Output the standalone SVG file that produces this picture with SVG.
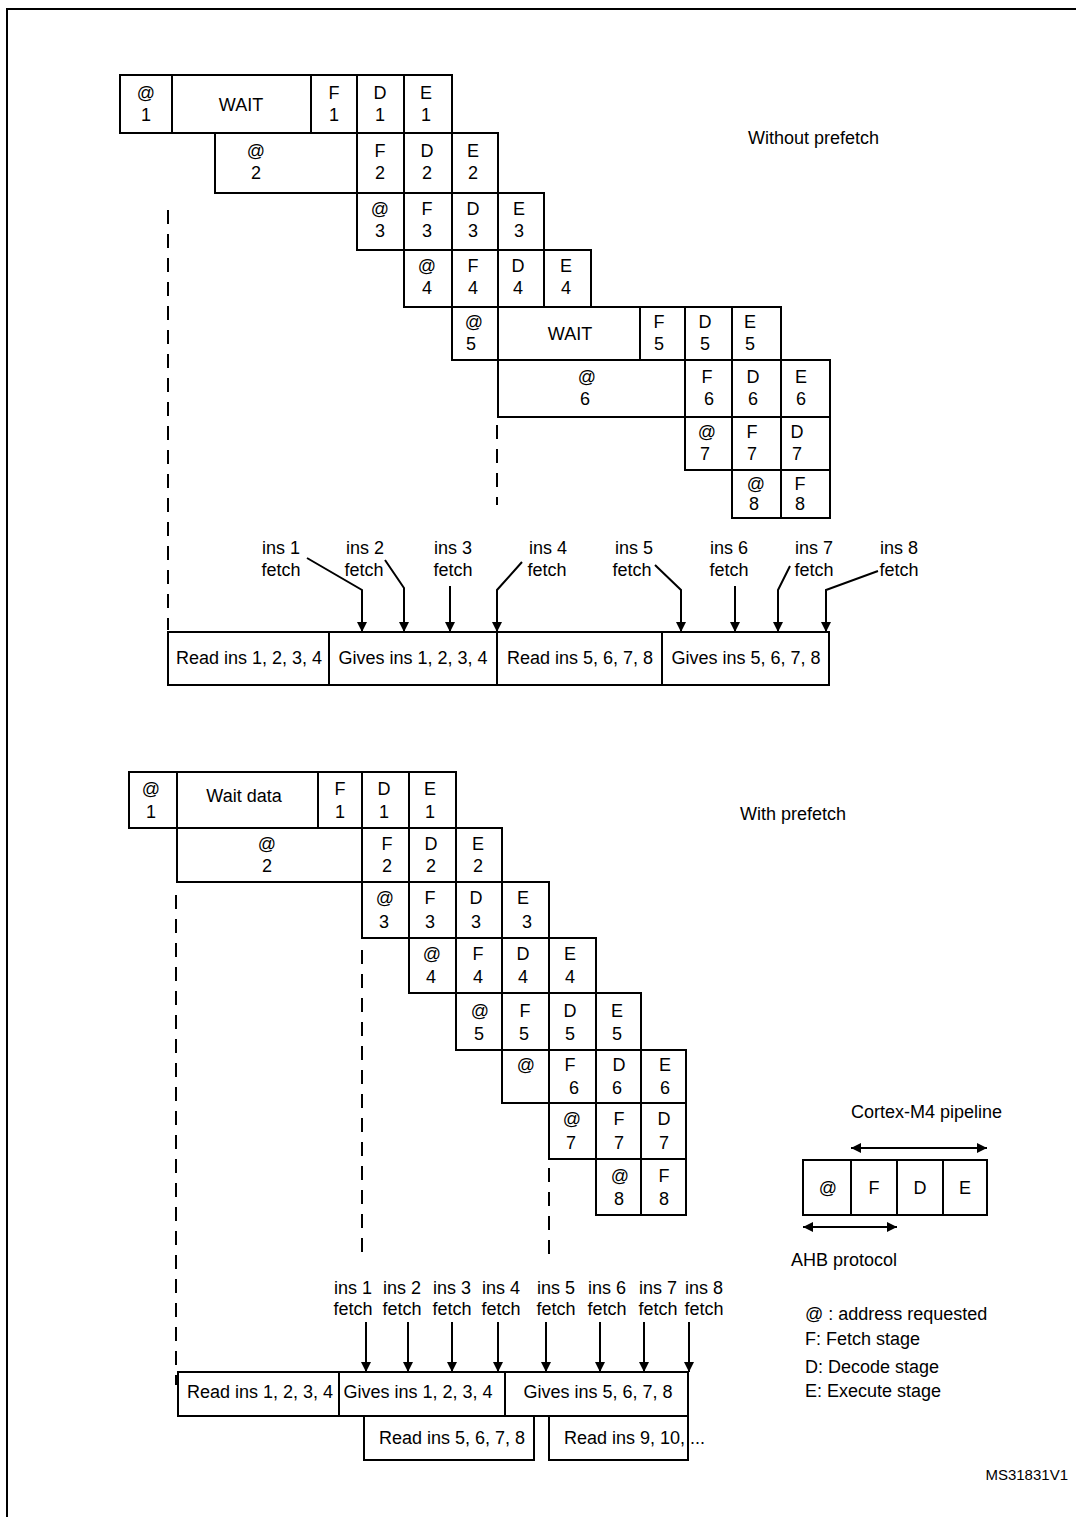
<svg xmlns="http://www.w3.org/2000/svg" width="1076" height="1517" viewBox="0 0 1076 1517">
<defs>
<style>
text{font-family:"Liberation Sans",Arial,sans-serif;font-size:18px;fill:#000}
.c{text-anchor:middle}
rect{fill:#fff;stroke:#000;stroke-width:2}
.d{stroke:#000;stroke-width:2;stroke-dasharray:14,10;fill:none}
.l{stroke:#000;stroke-width:2;fill:none}
</style>
<marker id="ah" viewBox="0 0 10 10" refX="10" refY="5" markerWidth="5" markerHeight="5" orient="auto" markerUnits="strokeWidth"><path d="M0,0 L10,5 L0,10 z" fill="#000"/></marker>
<marker id="ah2" viewBox="0 0 10 10" refX="10" refY="5" markerWidth="5" markerHeight="5" orient="auto-start-reverse" markerUnits="strokeWidth"><path d="M0,0 L10,5 L0,10 z" fill="#000"/></marker>
</defs>
<rect x="7" y="9" width="1080" height="1520" style="fill:#fff"/>

<!-- TOP: without prefetch -->
<g id="top-r1">
<rect x="120" y="75" width="52" height="58"/><text class="c" x="146" y="99">@</text><text class="c" x="146" y="121">1</text>
<rect x="172" y="75" width="139" height="58"/><text class="c" x="241" y="111">WAIT</text>
<rect x="311" y="75" width="46" height="58"/><text class="c" x="334" y="99">F</text><text class="c" x="334" y="121">1</text>
<rect x="357" y="75" width="47" height="58"/><text class="c" x="380" y="99">D</text><text class="c" x="380" y="121">1</text>
<rect x="404" y="75" width="48" height="58"/><text class="c" x="426" y="99">E</text><text class="c" x="426" y="121">1</text>
</g>
<g id="top-r2">
<rect x="215" y="133" width="142" height="60"/><text class="c" x="256" y="157">@</text><text class="c" x="256" y="179">2</text>
<rect x="357" y="133" width="47" height="60"/><text class="c" x="380" y="157">F</text><text class="c" x="380" y="179">2</text>
<rect x="404" y="133" width="48" height="60"/><text class="c" x="427" y="157">D</text><text class="c" x="427" y="179">2</text>
<rect x="452" y="133" width="46" height="60"/><text class="c" x="473" y="157">E</text><text class="c" x="473" y="179">2</text>
</g>
<g id="top-r3">
<rect x="357" y="193" width="47" height="57"/><text class="c" x="380" y="215">@</text><text class="c" x="380" y="237">3</text>
<rect x="404" y="193" width="48" height="57"/><text class="c" x="427" y="215">F</text><text class="c" x="427" y="237">3</text>
<rect x="452" y="193" width="46" height="57"/><text class="c" x="473" y="215">D</text><text class="c" x="473" y="237">3</text>
<rect x="498" y="193" width="46" height="57"/><text class="c" x="519" y="215">E</text><text class="c" x="519" y="237">3</text>
</g>
<g id="top-r4">
<rect x="404" y="250" width="48" height="57"/><text class="c" x="427" y="272">@</text><text class="c" x="427" y="294">4</text>
<rect x="452" y="250" width="46" height="57"/><text class="c" x="473" y="272">F</text><text class="c" x="473" y="294">4</text>
<rect x="498" y="250" width="46" height="57"/><text class="c" x="518" y="272">D</text><text class="c" x="518" y="294">4</text>
<rect x="544" y="250" width="47" height="57"/><text class="c" x="566" y="272">E</text><text class="c" x="566" y="294">4</text>
</g>
<g id="top-r5">
<rect x="452" y="307" width="46" height="53"/><text class="c" x="474" y="328">@</text><text class="c" x="471" y="350">5</text>
<rect x="498" y="307" width="142" height="53"/><text class="c" x="570" y="340">WAIT</text>
<rect x="640" y="307" width="45" height="53"/><text class="c" x="659" y="328">F</text><text class="c" x="659" y="350">5</text>
<rect x="685" y="307" width="47" height="53"/><text class="c" x="705" y="328">D</text><text class="c" x="705" y="350">5</text>
<rect x="732" y="307" width="49" height="53"/><text class="c" x="750" y="328">E</text><text class="c" x="750" y="350">5</text>
</g>
<g id="top-r6">
<rect x="498" y="360" width="187" height="57"/><text class="c" x="587" y="383">@</text><text class="c" x="585" y="405">6</text>
<rect x="685" y="360" width="47" height="57"/><text class="c" x="707" y="383">F</text><text class="c" x="709" y="405">6</text>
<rect x="732" y="360" width="49" height="57"/><text class="c" x="753" y="383">D</text><text class="c" x="753" y="405">6</text>
<rect x="781" y="360" width="49" height="57"/><text class="c" x="801" y="383">E</text><text class="c" x="801" y="405">6</text>
</g>
<g id="top-r7">
<rect x="685" y="417" width="47" height="53"/><text class="c" x="707" y="438">@</text><text class="c" x="705" y="460">7</text>
<rect x="732" y="417" width="49" height="53"/><text class="c" x="752" y="438">F</text><text class="c" x="752" y="460">7</text>
<rect x="781" y="417" width="49" height="53"/><text class="c" x="797" y="438">D</text><text class="c" x="797" y="460">7</text>
</g>
<g id="top-r8">
<rect x="732" y="470" width="49" height="48"/><text class="c" x="756" y="490">@</text><text class="c" x="754" y="510">8</text>
<rect x="781" y="470" width="49" height="48"/><text class="c" x="800" y="490">F</text><text class="c" x="800" y="510">8</text>
</g>
<g id="top-label"><text x="748" y="144">Without prefetch</text></g>

<g id="top-bar">
<rect x="168" y="632" width="161" height="53"/><text class="c" x="249" y="664">Read ins 1, 2, 3, 4</text>
<rect x="329" y="632" width="168" height="53"/><text class="c" x="413" y="664">Gives ins 1, 2, 3, 4</text>
<rect x="497" y="632" width="165" height="53"/><text class="c" x="580" y="664">Read ins 5, 6, 7, 8</text>
<rect x="662" y="632" width="167" height="53"/><text class="c" x="746" y="664">Gives ins 5, 6, 7, 8</text>
</g>
<g id="top-fetch-labels">
<text class="c" x="281" y="554">ins 1</text><text class="c" x="281" y="576">fetch</text>
<text class="c" x="365" y="554">ins 2</text><text class="c" x="364" y="576">fetch</text>
<text class="c" x="453" y="554">ins 3</text><text class="c" x="453" y="576">fetch</text>
<text class="c" x="548" y="554">ins 4</text><text class="c" x="547" y="576">fetch</text>
<text class="c" x="634" y="554">ins 5</text><text class="c" x="632" y="576">fetch</text>
<text class="c" x="729" y="554">ins 6</text><text class="c" x="729" y="576">fetch</text>
<text class="c" x="814" y="554">ins 7</text><text class="c" x="814" y="576">fetch</text>
<text class="c" x="899" y="554">ins 8</text><text class="c" x="899" y="576">fetch</text>
</g>

<!-- BOTTOM: with prefetch -->
<g id="bot-r1">
<rect x="129" y="772" width="48" height="56"/><text class="c" x="151" y="795">@</text><text class="c" x="151" y="818">1</text>
<rect x="177" y="772" width="141" height="56"/><text class="c" x="244" y="802">Wait data</text>
<rect x="318" y="772" width="44" height="56"/><text class="c" x="340" y="795">F</text><text class="c" x="340" y="818">1</text>
<rect x="362" y="772" width="47" height="56"/><text class="c" x="384" y="795">D</text><text class="c" x="384" y="818">1</text>
<rect x="409" y="772" width="47" height="56"/><text class="c" x="430" y="795">E</text><text class="c" x="430" y="818">1</text>
</g>
<g id="bot-r2">
<rect x="177" y="828" width="185" height="54"/><text class="c" x="267" y="850">@</text><text class="c" x="267" y="872">2</text>
<rect x="362" y="828" width="47" height="54"/><text class="c" x="387" y="850">F</text><text class="c" x="387" y="872">2</text>
<rect x="409" y="828" width="47" height="54"/><text class="c" x="431" y="850">D</text><text class="c" x="431" y="872">2</text>
<rect x="456" y="828" width="46" height="54"/><text class="c" x="478" y="850">E</text><text class="c" x="478" y="872">2</text>
</g>
<g id="bot-r3">
<rect x="362" y="882" width="47" height="56"/><text class="c" x="385" y="904">@</text><text class="c" x="384" y="928">3</text>
<rect x="409" y="882" width="47" height="56"/><text class="c" x="430" y="904">F</text><text class="c" x="430" y="928">3</text>
<rect x="456" y="882" width="46" height="56"/><text class="c" x="476" y="904">D</text><text class="c" x="476" y="928">3</text>
<rect x="502" y="882" width="47" height="56"/><text class="c" x="523" y="904">E</text><text class="c" x="527" y="928">3</text>
</g>
<g id="bot-r4">
<rect x="409" y="938" width="47" height="55"/><text class="c" x="432" y="960">@</text><text class="c" x="431" y="983">4</text>
<rect x="456" y="938" width="46" height="55"/><text class="c" x="478" y="960">F</text><text class="c" x="478" y="983">4</text>
<rect x="502" y="938" width="47" height="55"/><text class="c" x="523" y="960">D</text><text class="c" x="523" y="983">4</text>
<rect x="549" y="938" width="47" height="55"/><text class="c" x="570" y="960">E</text><text class="c" x="570" y="983">4</text>
</g>
<g id="bot-r5">
<rect x="456" y="993" width="46" height="57"/><text class="c" x="480" y="1017">@</text><text class="c" x="479" y="1040">5</text>
<rect x="502" y="993" width="47" height="57"/><text class="c" x="525" y="1017">F</text><text class="c" x="524" y="1040">5</text>
<rect x="549" y="993" width="47" height="57"/><text class="c" x="570" y="1017">D</text><text class="c" x="570" y="1040">5</text>
<rect x="596" y="993" width="45" height="57"/><text class="c" x="617" y="1017">E</text><text class="c" x="617" y="1040">5</text>
</g>
<g id="bot-r6">
<rect x="502" y="1050" width="47" height="53"/><text class="c" x="526" y="1071">@</text>
<rect x="549" y="1050" width="47" height="53"/><text class="c" x="570" y="1071">F</text><text class="c" x="574" y="1094">6</text>
<rect x="596" y="1050" width="45" height="53"/><text class="c" x="619" y="1071">D</text><text class="c" x="617" y="1094">6</text>
<rect x="641" y="1050" width="45" height="53"/><text class="c" x="665" y="1071">E</text><text class="c" x="665" y="1094">6</text>
</g>
<g id="bot-r7">
<rect x="549" y="1103" width="47" height="56"/><text class="c" x="572" y="1125">@</text><text class="c" x="571" y="1149">7</text>
<rect x="596" y="1103" width="45" height="56"/><text class="c" x="619" y="1125">F</text><text class="c" x="619" y="1149">7</text>
<rect x="641" y="1103" width="45" height="56"/><text class="c" x="664" y="1125">D</text><text class="c" x="664" y="1149">7</text>
</g>
<g id="bot-r8">
<rect x="596" y="1159" width="45" height="56"/><text class="c" x="620" y="1182">@</text><text class="c" x="619" y="1205">8</text>
<rect x="641" y="1159" width="45" height="56"/><text class="c" x="664" y="1182">F</text><text class="c" x="664" y="1205">8</text>
</g>
<g id="bot-label"><text x="740" y="820">With prefetch</text></g>

<g id="bot-bar">
<rect x="178" y="1372" width="161" height="44"/><text class="c" x="260" y="1398">Read ins 1, 2, 3, 4</text>
<rect x="339" y="1372" width="166" height="44"/><text class="c" x="418" y="1398">Gives ins 1, 2, 3, 4</text>
<rect x="505" y="1372" width="183" height="44"/><text class="c" x="598" y="1398">Gives ins 5, 6, 7, 8</text>
<rect x="364" y="1416" width="170" height="44"/><text class="c" x="452" y="1444">Read ins 5, 6, 7, 8</text>
<rect x="549" y="1416" width="139" height="44"/><text x="564" y="1444">Read ins 9, 10, ...</text>
</g>
<g id="bot-fetch-labels">
<text class="c" x="353" y="1294">ins 1</text><text class="c" x="353" y="1315">fetch</text>
<text class="c" x="402" y="1294">ins 2</text><text class="c" x="402" y="1315">fetch</text>
<text class="c" x="452" y="1294">ins 3</text><text class="c" x="452" y="1315">fetch</text>
<text class="c" x="501" y="1294">ins 4</text><text class="c" x="501" y="1315">fetch</text>
<text class="c" x="556" y="1294">ins 5</text><text class="c" x="556" y="1315">fetch</text>
<text class="c" x="607" y="1294">ins 6</text><text class="c" x="607" y="1315">fetch</text>
<text class="c" x="658" y="1294">ins 7</text><text class="c" x="658" y="1315">fetch</text>
<text class="c" x="704" y="1294">ins 8</text><text class="c" x="704" y="1315">fetch</text>
</g>

<!-- legend -->
<g id="legend">
<text x="851" y="1118">Cortex-M4 pipeline</text>
<rect x="803" y="1160" width="48" height="55"/><text class="c" x="828" y="1194">@</text>
<rect x="851" y="1160" width="46" height="55"/><text class="c" x="874" y="1194">F</text>
<rect x="897" y="1160" width="46" height="55"/><text class="c" x="920" y="1194">D</text>
<rect x="943" y="1160" width="44" height="55"/><text class="c" x="965" y="1194">E</text>
<text x="791" y="1266">AHB protocol</text>
<text x="805" y="1320">@ : address requested</text>
<text x="805" y="1345">F: Fetch stage</text>
<text x="805" y="1373">D: Decode stage</text>
<text x="805" y="1397">E: Execute stage</text>
<text x="1068" y="1480" style="text-anchor:end;font-size:15px">MS31831V1</text>
</g>

<g id="connectors">
<path class="d" d="M168,210 V630"/>
<path class="d" d="M497,425 V505"/>
<path class="d" d="M176,895 V1385"/>
<path class="d" d="M362,950 V1255"/>
<path class="d" d="M549,1168 V1255"/>
<path class="l" marker-end="url(#ah)" d="M307,558 L362,590 V632"/>
<path class="l" marker-end="url(#ah)" d="M385,560 L404,588 V632"/>
<path class="l" marker-end="url(#ah)" d="M450,586 V632"/>
<path class="l" marker-end="url(#ah)" d="M522,562 L497,590 V632"/>
<path class="l" marker-end="url(#ah)" d="M655,565 L681,590 V632"/>
<path class="l" marker-end="url(#ah)" d="M735,586 V632"/>
<path class="l" marker-end="url(#ah)" d="M790,566 L778,590 V632"/>
<path class="l" marker-end="url(#ah)" d="M878,571 L826,590 V632"/>
<path class="l" marker-end="url(#ah)" d="M366,1322 V1372"/>
<path class="l" marker-end="url(#ah)" d="M408,1322 V1372"/>
<path class="l" marker-end="url(#ah)" d="M452,1322 V1372"/>
<path class="l" marker-end="url(#ah)" d="M498,1322 V1372"/>
<path class="l" marker-end="url(#ah)" d="M546,1322 V1372"/>
<path class="l" marker-end="url(#ah)" d="M600,1322 V1372"/>
<path class="l" marker-end="url(#ah)" d="M644,1322 V1372"/>
<path class="l" marker-end="url(#ah)" d="M689,1322 V1372"/>
<path class="l" marker-start="url(#ah2)" marker-end="url(#ah2)" d="M851,1148 H987"/>
<path class="l" marker-start="url(#ah2)" marker-end="url(#ah2)" d="M803,1227 H897"/>
</g>
</svg>
